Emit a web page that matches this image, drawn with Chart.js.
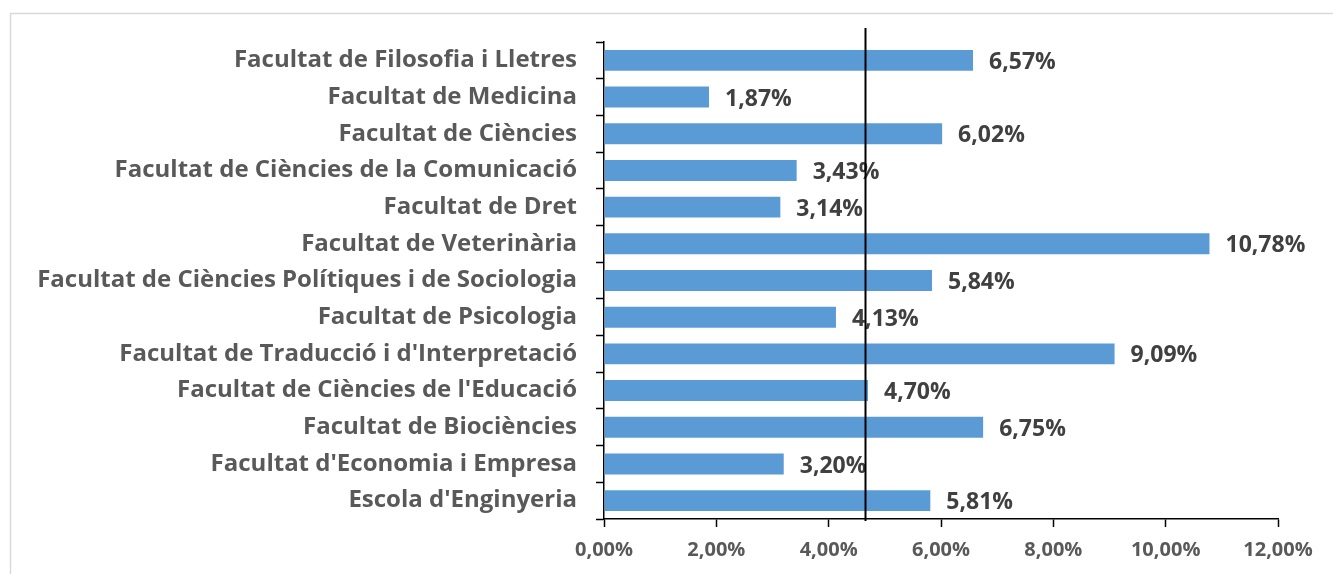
<!DOCTYPE html>
<html>
<head>
<meta charset="utf-8">
<script src="https://cdn.jsdelivr.net/npm/chart.js@4/dist/chart.umd.min.js"></script>
<style>
  html, body { margin: 0; padding: 0; background: #fff; }
  #wrap { position: relative; width: 1333px; height: 574px; }
</style>
</head>
<body>
<div id="wrap"><canvas id="chart" width="1333" height="574"></canvas></div>
<script>
const faculties = [
  "Facultat de Filosofia i Lletres",
  "Facultat de Medicina",
  "Facultat de Ciències",
  "Facultat de Ciències de la Comunicació",
  "Facultat de Dret",
  "Facultat de Veterinària",
  "Facultat de Ciències Polítiques i de Sociologia",
  "Facultat de Psicologia",
  "Facultat de Traducció i d'Interpretació",
  "Facultat de Ciències de l'Educació",
  "Facultat de Biociències",
  "Facultat d'Economia i Empresa",
  "Escola d'Enginyeria"
];
const shares = [6.57, 1.87, 6.02, 3.43, 3.14, 10.78, 5.84, 4.13, 9.09, 4.70, 6.75, 3.20, 5.81];
const referenceLine = 4.65;
const xMin = 0, xMax = 12, xStep = 2;

const FONT = "'Open Sans', sans-serif";
const fmtPct = (v) => v.toFixed(2).replace(".", ",") + "%";

// light frame round the chart, like the original sheet
const framePlugin = {
  id: "frame",
  beforeDraw(chart) {
    const c = chart.ctx;
    c.save();
    c.strokeStyle = "#d9d9d9";
    c.lineWidth = 1.5;
    c.beginPath();
    c.moveTo(10.5, chart.height);
    c.lineTo(10.5, 13.5);
    c.lineTo(chart.width, 13.5);
    c.stroke();
    c.restore();
  }
};

const valueLabels = {
  id: "valueLabels",
  afterDatasetsDraw(chart) {
    const c = chart.ctx;
    const meta = chart.getDatasetMeta(0);
    c.save();
    c.font = "bold 23px " + FONT;
    c.fillStyle = "#404040";
    c.textAlign = "left";
    c.textBaseline = "middle";
    meta.data.forEach((bar, i) => {
      c.fillText(fmtPct(shares[i]), bar.x + 16, bar.y + 2);
    });
    c.restore();
  }
};

const refLine = {
  id: "refLine",
  afterDraw(chart) {
    const c = chart.ctx;
    const x = Math.round(chart.scales.x.getPixelForValue(referenceLine)) + 0.5;
    const area = chart.chartArea;
    c.save();
    c.strokeStyle = "#000";
    c.lineWidth = 2;
    c.beginPath();
    c.moveTo(x, area.top - 14);
    c.lineTo(x, area.bottom + 2);
    c.stroke();
    c.restore();
  }
};

new Chart(document.getElementById("chart"), {
  type: "bar",
  data: {
    labels: faculties,
    datasets: [{
      data: shares,
      backgroundColor: "#5b9bd5",
      categoryPercentage: 0.57,
      barPercentage: 1
    }]
  },
  options: {
    indexAxis: "y",
    responsive: false,
    animation: false,
    layout: { padding: { top: 42, right: 55, left: 0, bottom: 0 } },
    plugins: { legend: { display: false }, tooltip: { enabled: false } },
    scales: {
      x: {
        min: xMin,
        max: xMax,
        ticks: {
          stepSize: xStep,
          callback: (v) => fmtPct(v),
          color: "#595959",
          font: { family: FONT, size: 20, weight: "bold" },
          padding: 11
        },
        grid: { drawOnChartArea: false, color: "#000", tickLength: 8, tickWidth: 1.5 },
        border: { color: "#000", width: 1.5 },
        afterFit: (s) => { s.height = 55; }
      },
      y: {
        ticks: {
          color: "#595959",
          font: { family: FONT, size: 24, weight: "bold" },
          padding: 19,
          autoSkip: false
        },
        grid: { drawOnChartArea: false, color: "#000", tickLength: 8, tickWidth: 1.5, offset: true },
        border: { color: "#000", width: 1.5 },
        afterFit: (s) => { s.width = 604; }
      }
    }
  },
  plugins: [framePlugin, valueLabels, refLine]
});
</script>
</body>
</html>
